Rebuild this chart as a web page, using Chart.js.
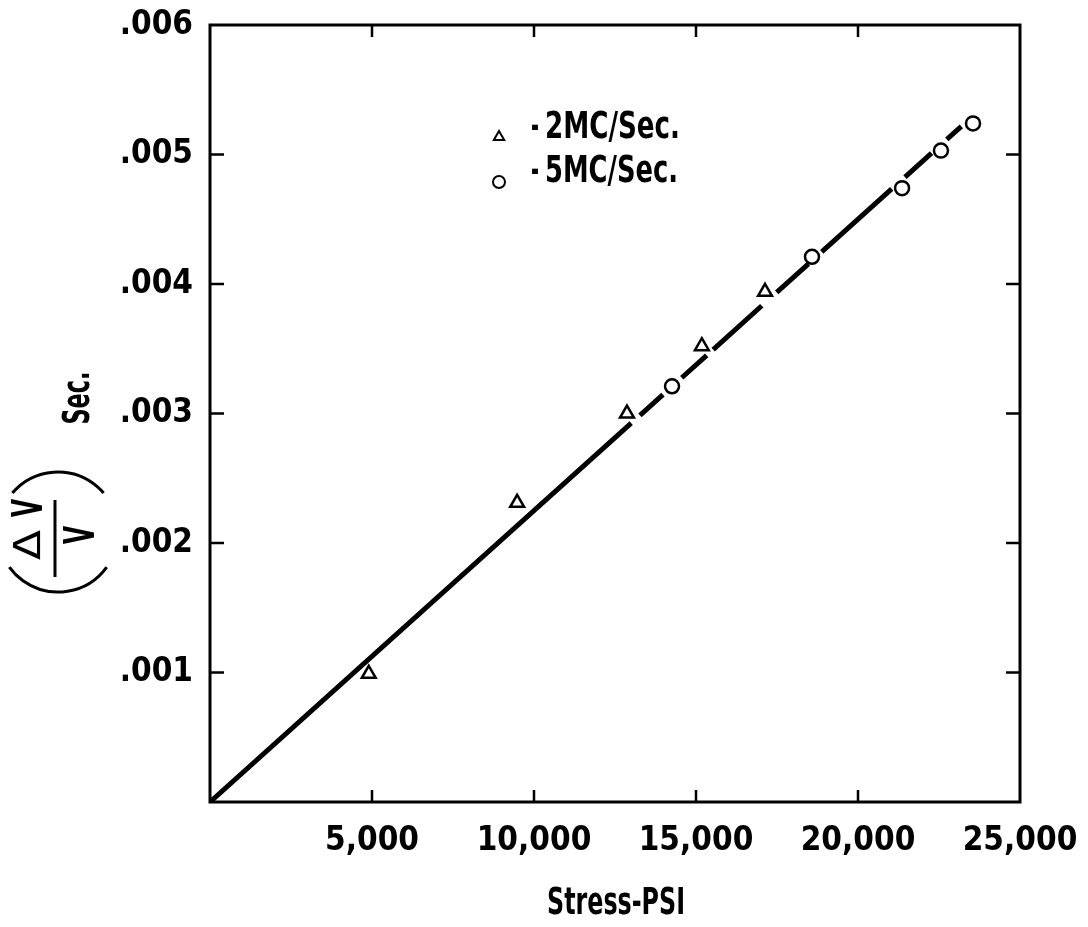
<!DOCTYPE html>
<html>
<head>
<meta charset="utf-8">
<script src="https://cdn.jsdelivr.net/npm/chart.js@4.4.1/dist/chart.umd.min.js"></script>
<style>
  html, body { margin: 0; background: #fff; }
</style>
</head>
<body>
<canvas id="chart" width="1088" height="927"></canvas>
<script>
// data
const triX = [4900, 9480, 12870, 15180, 17130];
const triY = [0.00099, 0.00231, 0.00300, 0.00352, 0.00394];
const circX = [14260, 18580, 21360, 22560, 23550];
const circY = [0.00321, 0.00421, 0.00474, 0.00503, 0.00524];

// fitted line, drawn as pieces (start, end) broken at the markers
const fitX = [0, 13000, 13270, 13980, 14560, 15330, 15530, 17030, 17490, 18470, 18880, 21040, 21450, 22270, 22740, 23190];
const fitY = [0, 0.002925, 0.002986, 0.003146, 0.003276, 0.003449, 0.003494, 0.003832, 0.003935, 0.004156, 0.004248, 0.004734, 0.004826, 0.005011, 0.005117, 0.005218];

const xTickValues = [0, 5000, 10000, 15000, 20000, 25000];
const xTickLabels = ["", "5,000", "10,000", "15,000", "20,000", "25,000"];
const yTickValues = [0, 0.001, 0.002, 0.003, 0.004, 0.005, 0.006];
const yTickLabels = ["", ".001", ".002", ".003", ".004", ".005", ".006"];

const FONT = "'DejaVu Sans Condensed', 'Liberation Sans', sans-serif";

let fitData = [];
for (let i = 0; i < fitX.length; i += 2) {
  fitData.push({ x: fitX[i], y: fitY[i] });
  fitData.push({ x: fitX[i + 1], y: fitY[i + 1] });
  fitData.push({ x: (fitX[i + 1] + (fitX[i + 2] || fitX[i + 1])) / 2, y: null });
}

// squeeze text to a given width (the original lettering is very narrow)
function fitText(ctx, text, x, y, w) {
  const m = ctx.measureText(text).width;
  ctx.save();
  ctx.translate(x, y);
  ctx.scale(w / m, 1);
  ctx.fillText(text, 0, 0);
  ctx.restore();
}

const extras = {
  id: "extras",
  afterDraw(chart) {
    const { ctx, chartArea: a, scales: { x, y } } = chart;
    ctx.save();
    ctx.strokeStyle = "#000";
    ctx.fillStyle = "#000";

    // box
    ctx.lineWidth = 3;
    ctx.strokeRect(a.left, a.top, a.right - a.left, a.bottom - a.top);

    // inward ticks on all four sides
    ctx.lineWidth = 2.5;
    ctx.beginPath();
    xTickValues.slice(1, -1).forEach((v) => {
      const px = x.getPixelForValue(v);
      ctx.moveTo(px, a.bottom); ctx.lineTo(px, a.bottom - 12);
      ctx.moveTo(px, a.top); ctx.lineTo(px, a.top + 12);
    });
    yTickValues.slice(1, -1).forEach((v) => {
      const py = y.getPixelForValue(v);
      ctx.moveTo(a.left, py); ctx.lineTo(a.left + 14, py);
      ctx.moveTo(a.right, py); ctx.lineTo(a.right - 14, py);
    });
    ctx.stroke();

    // legend
    ctx.lineWidth = 2;
    ctx.fillStyle = "#fff";
    Chart.helpers.drawPoint(ctx, { pointStyle: "triangle", radius: 6, borderWidth: 2 }, 499, 137);
    Chart.helpers.drawPoint(ctx, { pointStyle: "circle", radius: 6, borderWidth: 2 }, 499, 182);
    ctx.fillStyle = "#000";
    ctx.font = "bold 37px " + FONT;
    ctx.textAlign = "left";
    ctx.textBaseline = "middle";
    fitText(ctx, "-", 531, 128, 8);
    fitText(ctx, "2MC/Sec.", 545, 128, 135);
    fitText(ctx, "-", 531, 172, 8);
    fitText(ctx, "5MC/Sec.", 545, 172, 133);

    // x title
    ctx.textAlign = "center";
    fitText(ctx, "Stress-PSI", 616, 904, 138);

    // y title: (ΔV/V) Sec. rotated
    ctx.save();
    ctx.translate(79, 398);
    ctx.rotate(-Math.PI / 2);
    fitText(ctx, "Sec.", 0, 0, 53);
    ctx.restore();

    ctx.save();
    ctx.translate(30, 545);
    ctx.rotate(-Math.PI / 2);
    ctx.font = "38px 'DejaVu Sans', sans-serif";
    fitText(ctx, "Δ", 0, 0, 30);
    ctx.restore();

    ctx.save();
    ctx.translate(31, 508);
    ctx.rotate(-Math.PI / 2);
    ctx.font = "bold 42px " + FONT;
    fitText(ctx, "V", 0, 0, 18);
    ctx.restore();

    ctx.save();
    ctx.translate(83, 535);
    ctx.rotate(-Math.PI / 2);
    ctx.font = "bold 42px " + FONT;
    fitText(ctx, "V", 0, 0, 18);
    ctx.restore();

    ctx.lineWidth = 3;
    ctx.beginPath();
    ctx.moveTo(55, 500); ctx.lineTo(55, 577);
    ctx.stroke();
    ctx.beginPath();
    ctx.arc(58, 532, 60, 0.623, 2.518);
    ctx.stroke();
    ctx.beginPath();
    ctx.arc(58, 532, 60, -2.435, -0.707);
    ctx.stroke();

    ctx.restore();
  },
};

new Chart(document.getElementById("chart"), {
  type: "scatter",
  data: {
    datasets: [
      {
        type: "line",
        data: fitData,
        borderColor: "#000",
        borderWidth: 5,
        pointRadius: 0,
        spanGaps: false,
        tension: 0,
      },
      {
        data: triX.map((v, i) => ({ x: v, y: triY[i] })),
        pointStyle: "triangle",
        pointRadius: 8,
        borderColor: "#000",
        backgroundColor: "#fff",
        borderWidth: 2.5,
      },
      {
        data: circX.map((v, i) => ({ x: v, y: circY[i] })),
        pointStyle: "circle",
        pointRadius: 7,
        borderColor: "#000",
        backgroundColor: "#fff",
        borderWidth: 2.5,
      },
    ],
  },
  options: {
    responsive: false,
    animation: false,
    devicePixelRatio: 1,
    layout: { padding: { left: 0, top: 25, right: 68, bottom: 0 } },
    plugins: { legend: { display: false }, tooltip: { enabled: false } },
    scales: {
      x: {
        type: "linear",
        min: 0,
        max: 25000,
        afterFit: (s) => {
          s.height = 125;
          s.paddingLeft = 0;
          s.paddingRight = 0;
        },
        afterBuildTicks: (s) => { s.ticks = xTickValues.map((v) => ({ value: v })); },
        grid: { display: false, drawTicks: false },
        border: { display: false },
        ticks: {
          color: "#000",
          padding: 20,
          maxRotation: 0,
          font: { family: FONT, size: 33, weight: "bold" },
          callback: (v, i) => xTickLabels[i],
        },
      },
      y: {
        type: "linear",
        min: 0,
        max: 0.006,
        afterFit: (s) => {
          s.width = 210;
          s.paddingTop = 0;
          s.paddingBottom = 0;
        },
        afterBuildTicks: (s) => { s.ticks = yTickValues.map((v) => ({ value: v })); },
        grid: { display: false, drawTicks: false },
        border: { display: false },
        ticks: {
          color: "#000",
          padding: 17,
          font: { family: FONT, size: 33, weight: "bold" },
          callback: (v, i) => yTickLabels[i],
        },
      },
    },
  },
  plugins: [extras],
});
</script>
</body>
</html>
